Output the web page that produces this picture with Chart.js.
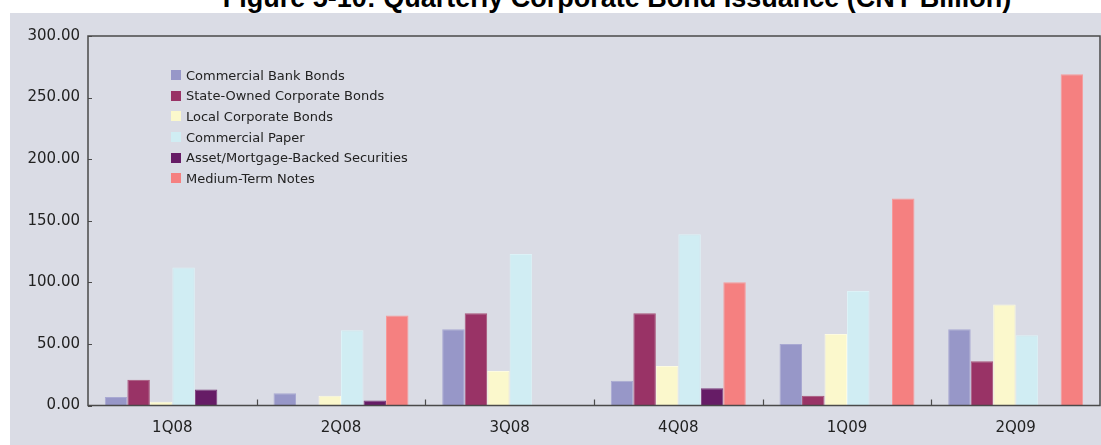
<!DOCTYPE html>
<html>
<head>
<meta charset="utf-8">
<script src="https://cdn.jsdelivr.net/npm/chart.js@4/dist/chart.umd.min.js"></script>
<style>
  html, body { margin: 0; padding: 0; background: #fff; }
  #wrap { position: relative; width: 1101px; height: 445px; overflow: hidden; }
  #title {
    position: absolute; left: 117px; width: 1000px; top: -17px;
    text-align: center; font: bold 27px "Liberation Sans", Arial, sans-serif; color: #000;
    line-height: 30px; white-space: nowrap;
  }
  #panel { position: absolute; left: 10px; top: 13px; width: 1091px; height: 432px; background: #dadce5; }
  #legend {
    position: absolute; left: 171px; top: 65px;
    font: 13px "DejaVu Sans", Verdana, sans-serif; color: #222;
  }
  .item { height: 20.6px; display: flex; align-items: center; }
  .box { width: 10px; height: 10px; margin-right: 5px; }
</style>
</head>
<body>
<div id="wrap">
  <div id="title">Figure 5-10: Quarterly Corporate Bond Issuance (CNY Billion)</div>
  <div id="panel"><canvas id="chart1" width="1091" height="432"></canvas></div>
  <div id="legend"></div>
</div>
<script>
// ----------------------- DATA -----------------------
const quarters = ["1Q08", "2Q08", "3Q08", "4Q08", "1Q09", "2Q09"];
const seriesNames = [
  "Commercial Bank Bonds",
  "State-Owned Corporate Bonds",
  "Local Corporate Bonds",
  "Commercial Paper",
  "Asset/Mortgage-Backed Securities",
  "Medium-Term Notes",
];
const commercialBank = [7, 10, 62, 20, 50, 62];
const stateOwned = [21, 0, 75, 75, 8, 36];
const localCorporate = [3, 8, 28, 32, 58, 82];
const commercialPaper = [112, 61, 123, 139, 93, 57];
const assetBacked = [13, 4, 0, 14, 0, 0];
const mediumTerm = [0, 73, 0, 100, 168, 269];
const yTicks = [0, 50, 100, 150, 200, 250, 300];

const fills = ["#9797c8", "#993366", "#fbf8cc", "#d0edf3", "#661c66", "#f58080"];
const edges = ["#a9a9d2", "#a85479", "#fdfbe0", "#dcf2f7", "#7a3a7a", "#f79a9a"];
const allSeries = [commercialBank, stateOwned, localCorporate, commercialPaper, assetBacked, mediumTerm];

// ----------------------- LEGEND -----------------------
const legendEl = document.getElementById("legend");
seriesNames.forEach((name, i) => {
  const row = document.createElement("div");
  row.className = "item";
  row.innerHTML = '<span class="box" style="background:' + fills[i] + '"></span>' + name;
  legendEl.appendChild(row);
});

// frame round the plot area, with short ticks pointing inwards
const frameTicks = {
  id: "frameTicks",
  afterDraw(chart) {
    const { ctx, chartArea: { top, right, bottom, left }, scales: { x, y } } = chart;
    ctx.save();
    ctx.strokeStyle = "#4a4a4a";
    ctx.lineWidth = 1.5;
    ctx.strokeRect(left, top, right - left, bottom - top);
    ctx.lineWidth = 1.2;
    ctx.beginPath();
    yTicks.forEach((v) => {
      const py = Math.round(y.getPixelForValue(v)) + 0.5;
      ctx.moveTo(left, py);
      ctx.lineTo(left + 4, py);
    });
    for (let i = 1; i < quarters.length; i++) {
      const px = Math.round((x.getPixelForValue(i - 1) + x.getPixelForValue(i)) / 2) + 0.5;
      ctx.moveTo(px, bottom);
      ctx.lineTo(px, bottom - 6);
    }
    ctx.stroke();
    ctx.restore();
  },
};

new Chart(document.getElementById("chart1"), {
  type: "bar",
  data: {
    labels: quarters,
    datasets: allSeries.map((d, i) => ({
      label: seriesNames[i],
      data: d,
      backgroundColor: fills[i],
      borderColor: edges[i],
      borderWidth: (c) => (c.raw > 0 ? 1 : 0),
      categoryPercentage: 0.8,
      barPercentage: 1.0,
    })),
  },
  options: {
    responsive: false,
    animation: false,
    layout: { padding: { top: 23, right: 1, left: 0, bottom: 0 } },
    plugins: { legend: { display: false }, tooltip: { enabled: false } },
    scales: {
      x: {
        grid: { display: false, drawTicks: false },
        border: { display: false },
        ticks: { color: "#222", font: { family: "DejaVu Sans", size: 15 }, padding: 14 },
        afterFit: (s) => { s.height = 39.5; },
      },
      y: {
        min: 0,
        max: 300,
        grid: { display: false, drawTicks: false },
        border: { display: false },
        afterBuildTicks: (s) => { s.ticks = yTicks.map((v) => ({ value: v })); },
        ticks: {
          color: "#222",
          font: { family: "DejaVu Sans", size: 15 },
          padding: 8,
          callback: (v) => v.toFixed(2),
        },
        afterFit: (s) => { s.width = 78; },
      },
    },
  },
  plugins: [frameTicks],
});
</script>
</body>
</html>
